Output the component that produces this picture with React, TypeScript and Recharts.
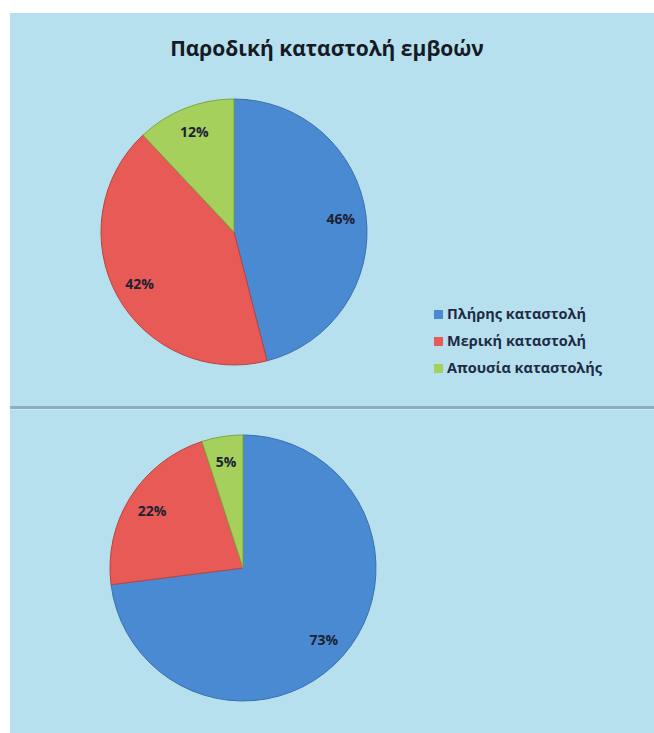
import React from 'react';
import { PieChart, Pie, Cell, Legend } from 'recharts';

const categories = ['Πλήρης καταστολή', 'Μερική καταστολή', 'Απουσία καταστολής'];
const firstValues = [46, 42, 12];
const secondValues = [73, 22, 5];

const colors = ['#4a8ad2', '#e85a55', '#a6d05c'];
const edges = ['#3b6fae', '#b84440', '#7fa443'];

const firstData = categories.map((name, i) => ({ name, value: firstValues[i] }));
const secondData = categories.map((name, i) => ({ name, value: secondValues[i] }));

const RAD = Math.PI / 180;
const noMargin = { top: 0, right: 0, bottom: 0, left: 0 };

const renderLabel = (props: any) => {
  const { cx, cy, midAngle, outerRadius, value } = props;
  const r = outerRadius * 0.81;
  const x = cx + r * Math.cos(-midAngle * RAD);
  const y = cy + r * Math.sin(-midAngle * RAD);
  return (
    <text
      x={x}
      y={y}
      textAnchor="middle"
      dominantBaseline="central"
      fill="#1c2233"
      fontSize={14}
      fontWeight="bold"
      fontFamily="'Open Sans', sans-serif"
    >
      {value}%
    </text>
  );
};

const legendText = (value: string) => (
  <span style={{ color: '#1f2b45', fontWeight: 'bold', fontSize: 14.5 }}>{value}</span>
);

// keep legend rows in category order (default sorts alphabetically)
const byCategory = (item: any) => categories.indexOf(item.value);

export default function App() {
  return (
    <div
      style={{
        position: 'absolute',
        left: 10,
        top: 13,
        width: 644,
        height: 720,
        background: '#b6e0ee',
        fontFamily: "'Open Sans', sans-serif",
        overflow: 'hidden',
      }}
    >
      <div
        style={{
          position: 'absolute',
          top: 21,
          left: 0,
          width: 634,
          textAlign: 'center',
          fontSize: 21,
          fontWeight: 'bold',
          color: '#151a24',
        }}
      >
        Παροδική καταστολή εμβοών
      </div>

      <div style={{ position: 'absolute', left: 0, top: 0 }}>
        <PieChart width={644} height={392} margin={noMargin}>
          <Pie
            data={firstData}
            dataKey="value"
            nameKey="name"
            cx={224}
            cy={219}
            outerRadius={133}
            startAngle={90}
            endAngle={-270}
            label={renderLabel}
            labelLine={false}
            isAnimationActive={false}
          >
            {firstData.map((d, i) => (
              <Cell key={d.name} fill={colors[i]} stroke={edges[i]} strokeWidth={1} />
            ))}
          </Pie>
          <Legend
            layout="vertical"
            verticalAlign="top"
            align="right"
            iconType="square"
            iconSize={9}
            itemSorter={byCategory}
            formatter={legendText}
            wrapperStyle={{ left: 424, top: 287, width: 210, lineHeight: '26px' }}
          />
        </PieChart>
      </div>

      <div
        style={{
          position: 'absolute',
          left: 0,
          top: 393,
          width: 644,
          height: 3,
          background: '#8cb0c0',
          borderBottom: '1px solid #cbe9f2',
        }}
      />

      <div style={{ position: 'absolute', left: 0, top: 396 }}>
        <PieChart width={644} height={324} margin={noMargin}>
          <Pie
            data={secondData}
            dataKey="value"
            nameKey="name"
            cx={233}
            cy={159}
            outerRadius={133}
            startAngle={90}
            endAngle={-270}
            label={renderLabel}
            labelLine={false}
            isAnimationActive={false}
          >
            {secondData.map((d, i) => (
              <Cell key={d.name} fill={colors[i]} stroke={edges[i]} strokeWidth={1} />
            ))}
          </Pie>
        </PieChart>
      </div>
    </div>
  );
}
